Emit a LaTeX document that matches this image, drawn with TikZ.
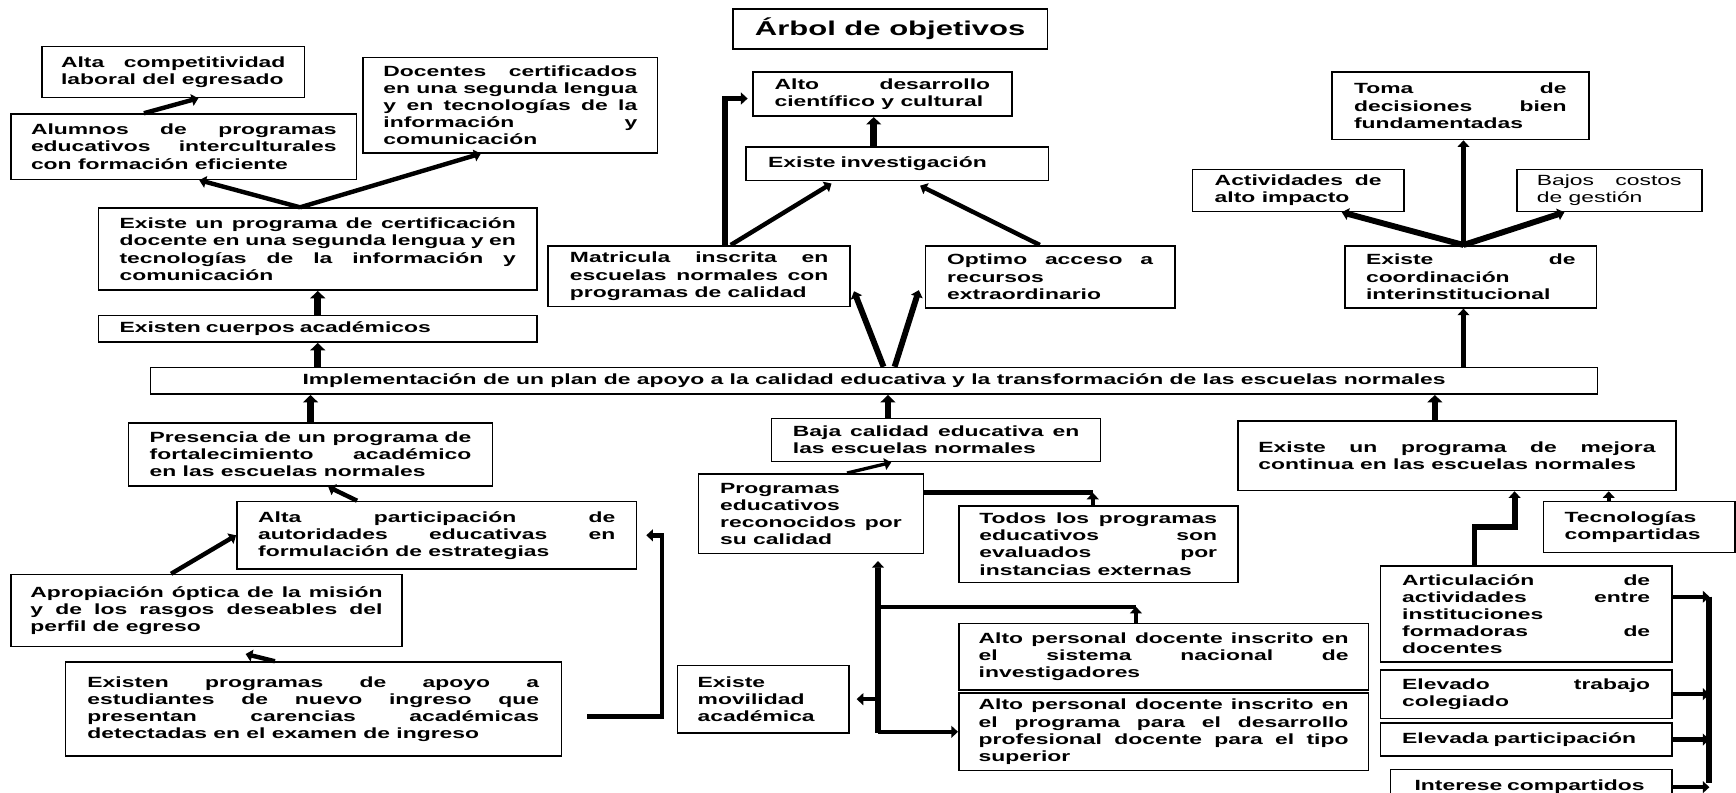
\documentclass[tikz,border=0pt]{standalone}
\usepackage{fontspec}
\newfontfamily\cajafont{Liberation Sans}[FakeStretch=1.55]
\usetikzlibrary{arrows.meta}
\tikzset{caja/.style={draw, line width=1.1pt, inner xsep=0pt, inner ysep=1pt, align=justify, font=\cajafont\bfseries\fontsize{10}{11.6}\selectfont},
flecha/.style={line width=3pt, -{Triangle[length=4.5pt, width=8pt]}},
bloque/.style={line width=4.5pt, -{Triangle[length=5pt, width=10pt]}},
linea/.style={line width=3pt},
tronco/.style={line width=4pt}}

\begin{document}
\begin{tikzpicture}[x=0.75pt, y=-0.75pt]
        \path[use as bounding box, clip] (0,0) rectangle (1568,716);
        \fill[white] (0,0) rectangle (1568,716);
        % Titulo
        \node[caja, align=center, font=\cajafont\bfseries\fontsize{13.55}{16}\selectfont, minimum width=213pt, minimum height=27pt] (titulo) at (804,26) {Árbol de objetivos};
        % Lado izquierdo
        \node[caja, minimum width=177.75pt, minimum height=34.5pt, text width=152pt] (altacomp) at (156.5,65) {Alta competitividad\linebreak laboral del egresado};
        \node[caja, minimum width=234pt, minimum height=44.25pt, text width=207pt] (alumnos) at (166,132.5) {Alumnos de programas\linebreak educativos interculturales\linebreak con formación eficiente};
        \node[caja, minimum width=199.5pt, minimum height=64.5pt, text width=172pt] (docentes) at (461,95) {Docentes certificados\linebreak en una segunda lengua\linebreak y en tecnologías de la\linebreak información y\linebreak comunicación};
        \node[caja, minimum width=297pt, minimum height=55.5pt, text width=268.5pt] (cert) at (287,225) {Existe un programa de certificación\linebreak docente en una segunda lengua y en\linebreak tecnologías de la información y\linebreak comunicación};
        \node[caja, align=left, minimum width=297pt, minimum height=18pt, text width=268.5pt] (cuerpos) at (287,297) {Existen cuerpos académicos};
        \node[caja, align=center, minimum width=980.25pt, minimum height=18pt] (impl) at (789.5,344) {Implementación de un plan de apoyo a la calidad educativa y la transformación de las escuelas normales};
        \node[caja, minimum width=246.75pt, minimum height=42.75pt, text width=218pt] (presencia) at (280.5,410.5) {Presencia de un programa de\linebreak fortalecimiento académico\linebreak en las escuelas normales};
        \node[caja, minimum width=270.75pt, minimum height=45.75pt, text width=242pt] (altapart) at (394.5,483.5) {Alta participación de\linebreak autoridades educativas en\linebreak formulación de estrategias};
        \node[caja, minimum width=264.75pt, minimum height=48.75pt, text width=238.5pt] (apropiacion) at (186.5,551.5) {Apropiación óptica de la misión\linebreak y de los rasgos deseables del\linebreak perfil de egreso};
        \node[caja, minimum width=336pt, minimum height=63.75pt, text width=306pt] (existenprog) at (283,640.5) {Existen programas de apoyo a\linebreak estudiantes de nuevo ingreso que\linebreak presentan carencias académicas\linebreak detectadas en el examen de ingreso};
        % Centro arriba
        \node[caja, minimum width=175.5pt, minimum height=30pt, text width=146pt] (altodes) at (797,85) {Alto desarrollo\linebreak científico y cultural};
        \node[caja, align=left, minimum width=204.75pt, minimum height=22.5pt, text width=175pt] (invest) at (810.5,148) {Existe investigación};
        \node[caja, minimum width=204.75pt, minimum height=41.25pt, text width=175pt] (matricula) at (631.5,249.5) {Matricula inscrita en\linebreak escuelas normales con\linebreak programas de calidad};
        \node[caja, minimum width=168.75pt, minimum height=42pt, text width=139.5pt] (optimo) at (948.5,250) {Optimo acceso a\linebreak recursos\linebreak extraordinario};
        % Centro abajo
        \node[caja, minimum width=222.75pt, minimum height=29.25pt, text width=194pt] (baja) at (845.5,397.5) {Baja calidad educativa en\linebreak las escuelas normales};
        \node[caja, minimum width=152.25pt, minimum height=54pt, text width=123pt] (programas) at (732.5,464) {Programas\linebreak educativos\linebreak reconocidos por\linebreak su calidad};
        \node[caja, minimum width=189pt, minimum height=51.75pt, text width=161pt] (todos) at (992,491.5) {Todos los programas\linebreak educativos son\linebreak evaluados por\linebreak instancias externas};
        \node[caja, minimum width=277.5pt, minimum height=45pt, text width=250.5pt] (sni) at (1051,593) {Alto personal docente inscrito en\linebreak el sistema nacional de\linebreak investigadores};
        \node[caja, minimum width=277.5pt, minimum height=52.5pt, text width=250.5pt] (prodep) at (1051,661) {Alto personal docente inscrito en\linebreak el programa para el desarrollo\linebreak profesional docente para el tipo\linebreak superior};
        \node[caja, align=left, minimum width=116.25pt, minimum height=45.75pt, text width=89pt] (movilidad) at (689.5,631.5) {Existe\\ movilidad\\ académica};
        % Lado derecho
        \node[caja, minimum width=174pt, minimum height=45.75pt, text width=144pt] (toma) at (1319,95.5) {Toma de\linebreak decisiones bien\linebreak fundamentadas};
        \node[caja, minimum width=143.25pt, minimum height=28.5pt, text width=113pt] (activ) at (1172.5,172) {Actividades de\linebreak alto impacto};
        \node[caja, font=\cajafont\fontsize{10}{11.6}\selectfont, minimum width=125.25pt, minimum height=28.5pt, text width=98pt] (bajos) at (1453.5,172) {Bajos costos\linebreak de gestión};
        \node[caja, minimum width=170.25pt, minimum height=42pt, text width=142pt] (coord) at (1328.5,250) {Existe de\linebreak coordinación\linebreak interinstitucional};
        \node[caja, minimum width=297pt, minimum height=47.25pt, text width=269pt] (mejora) at (1316,411.5) {Existe un programa de mejora\linebreak continua en las escuelas normales};
        \node[caja, align=left, minimum width=129.75pt, minimum height=34.5pt, text width=101pt] (tecno) at (1480.5,476) {Tecnologías\\ compartidas};
        \node[caja, minimum width=197.25pt, minimum height=65.25pt, text width=168pt] (artic) at (1378.5,554.5) {Articulación de\linebreak actividades entre\linebreak instituciones\linebreak formadoras de\linebreak docentes};
        \node[caja, minimum width=197.25pt, minimum height=33pt, text width=168pt] (elevado) at (1378.5,627) {Elevado trabajo\linebreak colegiado};
        \node[caja, align=left, minimum width=197.25pt, minimum height=22.5pt, text width=168pt] (elevada) at (1378.5,668) {Elevada participación};
        \node[caja, align=left, minimum width=190.5pt, minimum height=24pt, text width=158pt] (interese) at (1383,711) {Interese compartidos};
        % Flechas lado izquierdo
        \draw[flecha] ([xshift=-12pt]cert.north) -- ([xshift=10.5pt]alumnos.south);
        \draw[flecha] ([xshift=-12pt]cert.north) -- ([xshift=-20pt]docentes.south);
        \draw[flecha] ([xshift=-27pt]alumnos.north) -- ([xshift=17pt]altacomp.south);
        \draw[bloque] (cuerpos.north) -- (cert.south);
        \draw[bloque] (cuerpos.south |- impl.north) -- (cuerpos.south);
        \draw[bloque] (presencia.north) -- (presencia.north |- impl.south);
        \draw[flecha] ([xshift=-54pt]altapart.north) -- ([xshift=12pt]presencia.south);
        \draw[flecha] ([xshift=-24pt]apropiacion.north) -- (altapart.west);
        \draw[flecha] ([xshift=-26pt]existenprog.north) -- ([xshift=26.5pt, yshift=-4.5pt]apropiacion.south);
        \draw[flecha] ([xshift=17pt, yshift=-5pt]existenprog.east) -| ([xshift=16.5pt]altapart.east) -- ([xshift=6pt]altapart.east);
        % Flechas centro arriba
        \draw[flecha, line width=3.75pt] ([xshift=17.6pt]matricula.north) |- ([xshift=-3pt, yshift=-3pt]altodes.west);
        \draw[flecha] ([xshift=21.4pt]matricula.north) -- ([xshift=-44.6pt, yshift=-1.5pt]invest.south);
        \draw[flecha] ([xshift=-7pt]optimo.north) -- ([xshift=15.4pt, yshift=-3pt]invest.south);
        \coordinate (ejeI) at ([xshift=-16pt]invest.north);
        \draw[bloque] (ejeI) -- (ejeI |- altodes.south);
        \draw[flecha, line width=4pt] ([xshift=6.4pt]impl.north) -- ([xshift=2pt, yshift=11pt]matricula.south east);
        \draw[flecha, line width=4pt] ([xshift=13.9pt]impl.north) -- ([xshift=-4pt, yshift=12.5pt]optimo.south west);
        % Flechas centro abajo
        \coordinate (ejeB) at ([xshift=-32.6pt]baja.north);
        \draw[bloque] (ejeB) -- (ejeB |- impl.south);
        \draw[flecha, line width=2.25pt] ([xshift=24.4pt]programas.north) -- ([xshift=-30.4pt]baja.south);
        \coordinate (nudoT) at (987,445);
        \draw[linea] ([yshift=14.25pt]programas.east) -- (nudoT);
        \draw[flecha] ([xshift=-3.75pt]todos.north) -- (nudoT);
        \coordinate (troncoB) at (793,662);
        \draw[flecha, line width=4pt] (troncoB) -- ([xshift=45.4pt, yshift=-4.5pt]programas.south);
        \coordinate (nudoS) at (1026,548);
        \draw[linea] (troncoB |- nudoS) -- (nudoS);
        \draw[flecha] ([xshift=-18.75pt]sni.north) -- (nudoS);
        \draw[flecha] (troncoB |- movilidad.east) -- ([xshift=4.5pt]movilidad.east);
        \draw[flecha] (troncoB |- prodep.west) -- (prodep.west);
        % Flechas lado derecho
        \coordinate (ejeC) at ([xshift=-5pt]coord.south);
        \draw[flecha, line width=4pt] (ejeC |- impl.north) -- (ejeC);
        \draw[flecha, line width=4pt] (ejeC |- coord.north) -- (ejeC |- toma.south);
        \draw[flecha, line width=4pt] (ejeC |- coord.north) -- ([xshift=29.6pt]activ.south);
        \draw[flecha, line width=4pt] (ejeC |- coord.north) -- ([xshift=-30.4pt]bajos.south);
        \coordinate (ejeM) at ([xshift=-15pt]mejora.north);
        \draw[bloque] (ejeM) -- (ejeM |- impl.south);
        \coordinate (ejeT) at ([xshift=-20.6pt]tecno.north);
        \draw[flecha] (ejeT) -- (ejeT |- mejora.south);
        \coordinate (codoM) at (1368,476);
        \draw[flecha, line width=4pt] ([xshift=-35pt]artic.north) |- (codoM) -- (codoM |- mejora.south);
        \coordinate (barraA) at (1544,539);
        \coordinate (barraB) at (1544,707);
        \draw[tronco] (barraA) -- (barraB);
        \draw[flecha] (artic.east |- barraA) -- (barraA);
        \draw[flecha] (elevado.east) -- (elevado.east -| barraA);
        \draw[flecha] (elevada.east) -- (elevada.east -| barraA);
        \draw[flecha] (interese.east) -- (interese.east -| barraA);
    \end{tikzpicture}
\end{document}
